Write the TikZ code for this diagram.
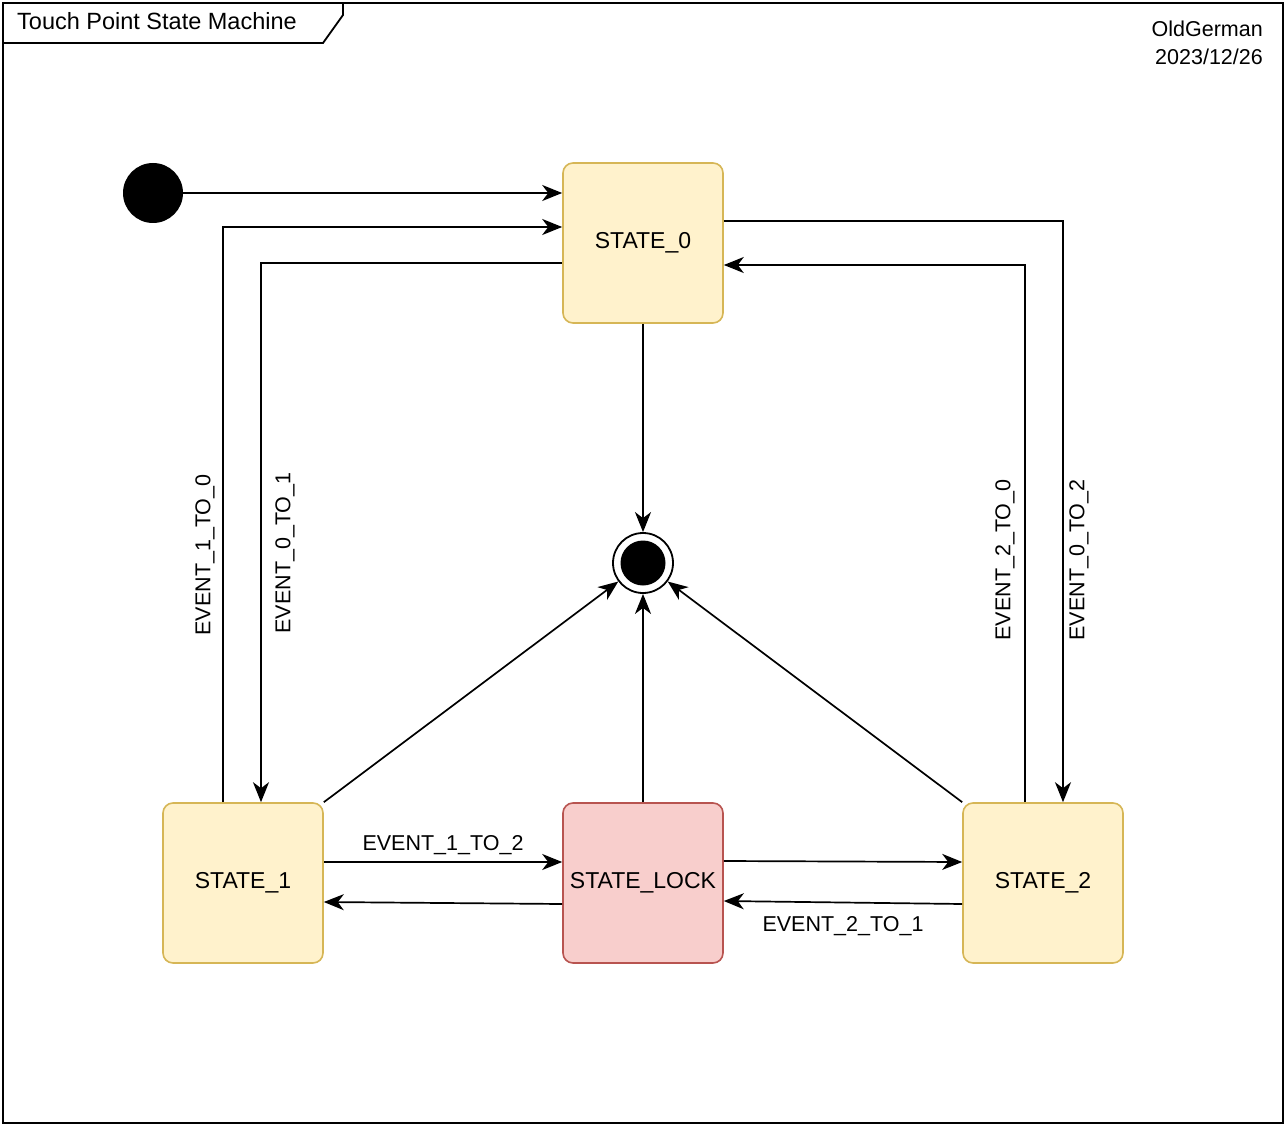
\documentclass[tikz,border=0pt]{standalone}
\usepackage{fontspec}
\setmainfont{Liberation Sans}
\usepackage{tikz}
\usetikzlibrary{arrows}
\usetikzlibrary{arrows.meta}

\definecolor{statefill}{HTML}{FFF2CC}
\definecolor{stateline}{HTML}{D6B656}
\definecolor{lockfill}{HTML}{F8CECC}
\definecolor{lockline}{HTML}{B85450}

\begin{document}
\begin{tikzpicture}[x=1pt, y=-1pt,
	state/.style = {draw=stateline, fill=statefill, rounded corners=10pt, minimum size=160pt, inner sep=0pt, line width=1.6pt, font=\fontsize{23}{27}\selectfont},
	lockstate/.style = {state, draw=lockline, fill=lockfill},
	edge/.style = {line width=1.7pt, -{Stealth[length=20pt, width=16pt, inset=6pt]}},
	evt/.style = {inner sep=0pt, font=\fontsize{21.5}{26}\selectfont}]
	\useasboundingbox (0,0) rectangle (1288,1126);
	\draw [line width=1.8pt] (3,3) rectangle (1283,1123);
	\draw [line width=1.8pt, fill=white] (3,3) -- (343,3) -- (343,15) -- (323,43) -- (3,43) -- cycle;
	\node [anchor=base west, inner sep=0pt, font=\fontsize{23.5}{28}\selectfont] (title) at (17,30) {Touch Point State Machine};
	\node [anchor=east, align=right, inner sep=0pt, font=\fontsize{21.5}{28}\selectfont] (author) at (1263,43) {OldGerman\\2023/12/26};

	\node [circle, fill=black, minimum size=60pt, inner sep=0pt] (init) at (153,193) {};
	\node [state] (s0) at (643,243) {\raisebox{-2pt}{STATE\_0}};
	\node [state] (s1) at (243,883) {\raisebox{-2pt}{STATE\_1}};
	\node [lockstate] (lock) at (643,883) {\raisebox{-2pt}{STATE\_LOCK}};
	\node [state] (s2) at (1043,883) {\raisebox{-2pt}{STATE\_2}};
	\node [circle, draw, line width=1.8pt, minimum size=60pt, inner sep=0pt] (fin) at (643,563) {};
	\fill (fin) circle (22.5pt);

	\draw [edge] (init) -- (s0.west |- init);
	\draw [edge] ([xshift=-20pt]s1.north) |- ([yshift=16pt]s0.west);
	\draw [edge] ([yshift=-20pt]s0.west) -| ([xshift=18pt]s1.north);
	\draw [edge] ([yshift=22pt]s0.east) -| ([xshift=20pt]s2.north);
	\draw [edge] ([xshift=-18pt]s2.north) |- ([yshift=-22pt]s0.east);
	\node [evt, rotate=90] (e10) at (205,555) {EVENT\_1\_TO\_0};
	\node [evt, rotate=90] (e01) at (285,553) {EVENT\_0\_TO\_1};
	\node [evt, rotate=90] (e20) at (1005,560) {EVENT\_2\_TO\_0};
	\node [evt, rotate=90] (e02) at (1079,560) {EVENT\_0\_TO\_2};

	\draw [edge] (s0) -- (fin);
	\draw [edge] (s1.north east) -- (fin);
	\draw [edge] (lock) -- (fin);
	\draw [edge] (s2.north west) -- (fin);

	\draw [edge] ([yshift=21pt]s1.east) -- ([yshift=21pt]lock.west) node [evt, pos=0.5, yshift=17pt] (e12) {EVENT\_1\_TO\_2};
	\draw [edge] ([yshift=-21pt]lock.west) -- ([yshift=-19pt]s1.east);
	\draw [edge] ([yshift=22pt]lock.east) -- ([yshift=21pt]s2.west);
	\draw [edge] ([yshift=-21pt]s2.west) -- ([yshift=-18pt]lock.east) node [evt, pos=0.5, yshift=-24pt] (e21) {EVENT\_2\_TO\_1};
\end{tikzpicture}
\end{document}
